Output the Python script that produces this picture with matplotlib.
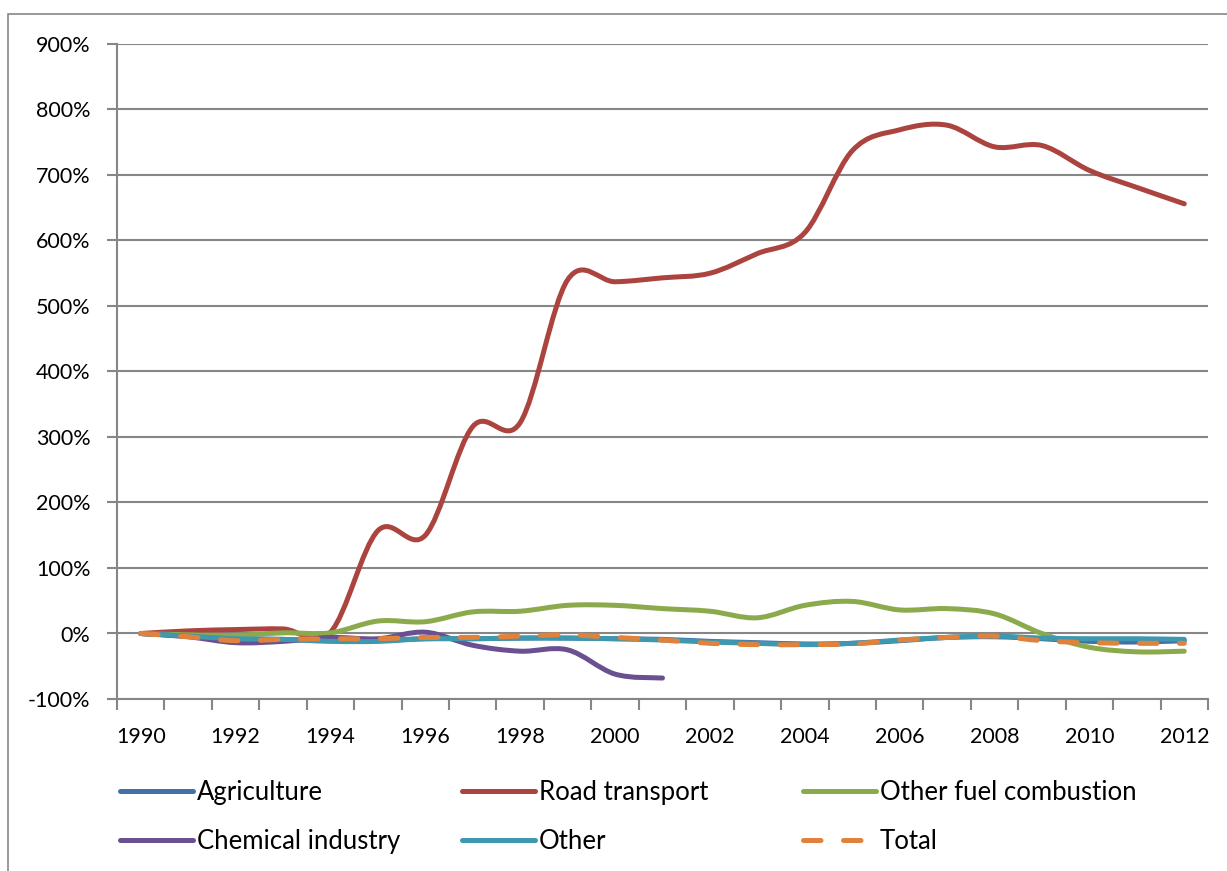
import numpy as np
import matplotlib.pyplot as plt
from matplotlib.path import Path
from matplotlib.patches import PathPatch, Rectangle
from matplotlib.lines import Line2D

plt.rcParams['font.family'] = ['Lato', 'DejaVu Sans']

# data (% change vs 1990)
years = list(range(1990, 2013))
agriculture = [0, -4, -8, -9, -11, -11, -8, -8, -7, -7, -8, -9, -12, -14, -16, -15, -11, -6, -5, -8, -12, -13, -11]
road_transport = [0, 4, 6, 7, 2, 157, 150, 316, 322, 540, 537, 543, 550, 580, 612, 737, 769, 776, 743, 745, 707, 681, 656]
other_fuel = [0, -2, -3, 1, 1, 19, 18, 33, 34, 43, 43, 38, 34, 24, 43, 49, 36, 38, 30, 0, -21, -28, -27]
chemical = [0, -5, -14, -12, -6, -8, 2, -18, -27, -25, -62, -68]
other = [0, -4, -8, -9, -12, -12, -8, -8, -7, -7, -8, -10, -13, -15, -17, -15, -10, -6, -4, -7, -8, -8, -9]
total = [0, -5, -11, -9, -8, -8, -6, -6, -4, -2, -6, -10, -15, -17, -17, -16, -10, -6, -4, -11, -14, -15, -15]

series = [
    ('Agriculture', agriculture, '#4470A8', None),
    ('Road transport', road_transport, '#AB433F', None),
    ('Other fuel combustion', other_fuel, '#8AAA4B', None),
    ('Chemical industry', chemical, '#6A5090', None),
    ('Other', other, '#3E98B0', None),
    ('Total', total, '#E0823C', (0, (3.5, 4.5))),
]


def smooth_path(xs, ys):
    # Catmull-Rom style cubic Bezier like Excel's smoothed line
    pts = np.column_stack([xs, ys]).astype(float)
    n = len(pts)
    verts = [pts[0]]
    codes = [Path.MOVETO]
    for i in range(n - 1):
        p0 = pts[max(i - 1, 0)]
        p1 = pts[i]
        p2 = pts[i + 1]
        p3 = pts[min(i + 2, n - 1)]
        c1 = p1 + (p2 - p0) / 6.0
        c2 = p2 - (p3 - p1) / 6.0
        verts += [c1, c2, p2]
        codes += [Path.CURVE4] * 3
    return Path(verts, codes)


fig = plt.figure(figsize=(12.27, 8.71), dpi=100)
ax = fig.add_axes([117 / 1227, 1 - 699 / 871, (1208 - 117) / 1227, (699 - 44) / 871])

grid_c = '#868686'
handles = []
for name, vals, color, dash in series:
    xs = np.arange(len(vals))
    p = smooth_path(xs, vals)
    patch = PathPatch(p, facecolor='none', edgecolor=color, lw=3.6,
                      capstyle='round', joinstyle='round',
                      linestyle=dash if dash else '-')
    ax.add_patch(patch)
    handles.append(Line2D([], [], color=color, lw=3.6, solid_capstyle='round',
                          dash_capstyle='round', linestyle=dash if dash else '-',
                          label=name))

ax.set_xlim(-0.5, len(years) - 0.5)
ax.set_ylim(-100, 900)
ax.set_yticks(range(-100, 901, 100))
ax.set_yticklabels([f'{v}%' for v in range(-100, 901, 100)])
ax.yaxis.grid(True, color=grid_c, lw=1.5)
ax.set_axisbelow(True)

ax.set_xticks(np.arange(-0.5, len(years), 1.0))
ax.set_xticklabels([])
ax.set_xticks(np.arange(0, len(years), 2), minor=True)
ax.set_xticklabels([str(y) for y in years[::2]], minor=True)
ax.tick_params(axis='x', which='major', length=8, width=1.5, color=grid_c, direction='out')
ax.tick_params(axis='x', which='minor', length=0, pad=20, labelsize=15.5)
ax.tick_params(axis='y', length=7, width=1.5, color=grid_c, pad=12, labelsize=15.5)

for s in ['top', 'right']:
    ax.spines[s].set_visible(False)
for s in ['left', 'bottom']:
    ax.spines[s].set_color(grid_c)
    ax.spines[s].set_linewidth(1.5)

# legend: three columns, two rows
col_x = [120, 462, 803]
for k in range(3):
    fig.legend(handles=[handles[k], handles[k + 3]], loc='upper left',
               bbox_to_anchor=(col_x[k] / 1227, 1 - 780 / 871),
               frameon=False, borderaxespad=0, borderpad=0,
               handlelength=2.85, handletextpad=0.15, labelspacing=0.95,
               fontsize=18.5)

# outer chart border
fig.add_artist(Rectangle((8 / 1227, -0.1), 1.2, 0.1 + 1 - 14 / 871,
                         transform=fig.transFigure, fill=False,
                         edgecolor=grid_c, lw=1.2))

fig.savefig('out.png', dpi=100)
